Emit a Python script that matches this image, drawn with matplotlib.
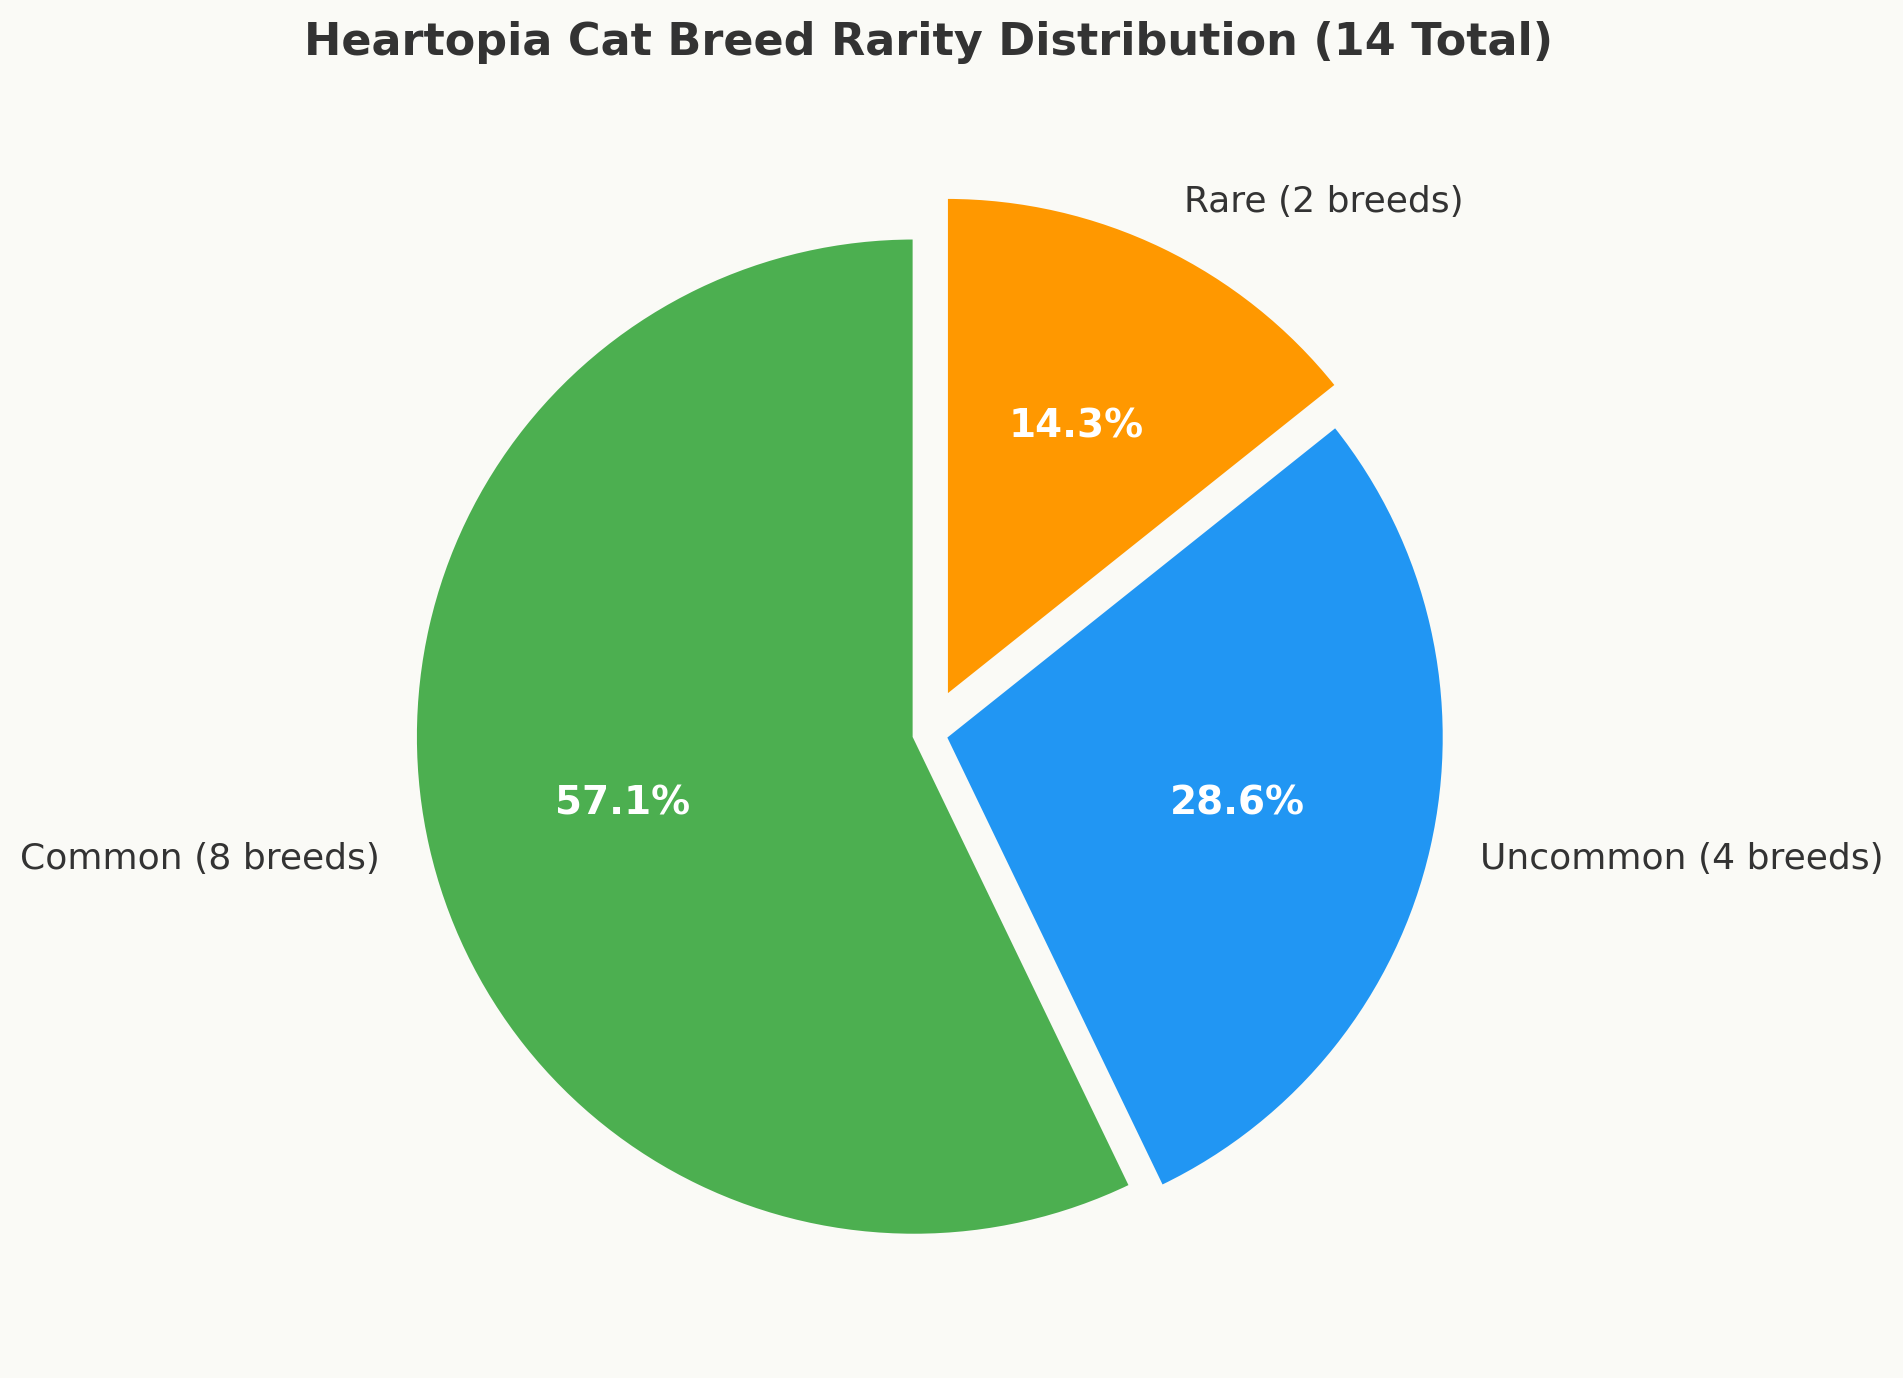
import matplotlib
matplotlib.use('Agg')
import matplotlib.pyplot as plt

# Rarity data
rarities = ['Common', 'Uncommon', 'Rare']
breed_counts = [8, 4, 2]
colors = ['#4CAF50', '#2196F3', '#FF9800']
explode = [0.03, 0.035, 0.083]

bg = '#FAFAF6'
labels = [f'{r} ({n} breeds)' for r, n in zip(rarities, breed_counts)]

fig = plt.figure(figsize=(9.515, 6.89), dpi=200, facecolor=bg)
ax = fig.add_axes([0, 0, 1, 1])
ax.set_facecolor(bg)

wedges, texts, autotexts = ax.pie(
    breed_counts, labels=labels, colors=colors, explode=explode,
    autopct='%1.1f%%', startangle=90, pctdistance=0.6, labeldistance=1.1,
    wedgeprops=dict(edgecolor=bg, linewidth=1),
    textprops=dict(fontsize=13, color='#333333'))

for t in autotexts:
    t.set_color('white')
    t.set_fontsize(14)
    t.set_fontweight('bold')

# place the pie like the original figure
ax.set_xlim(-1.8628, 1.9547)
ax.set_ylim(-1.2933, 1.4710)
ax.set_aspect('equal')
ax.axis('off')

fig.text(0.488, 1 - 55 / 1378, 'Heartopia Cat Breed Rarity Distribution (14 Total)',
         ha='center', va='baseline', fontsize=16, fontweight='bold', color='#333333')

fig.savefig('out.png', dpi=200, facecolor=bg)
